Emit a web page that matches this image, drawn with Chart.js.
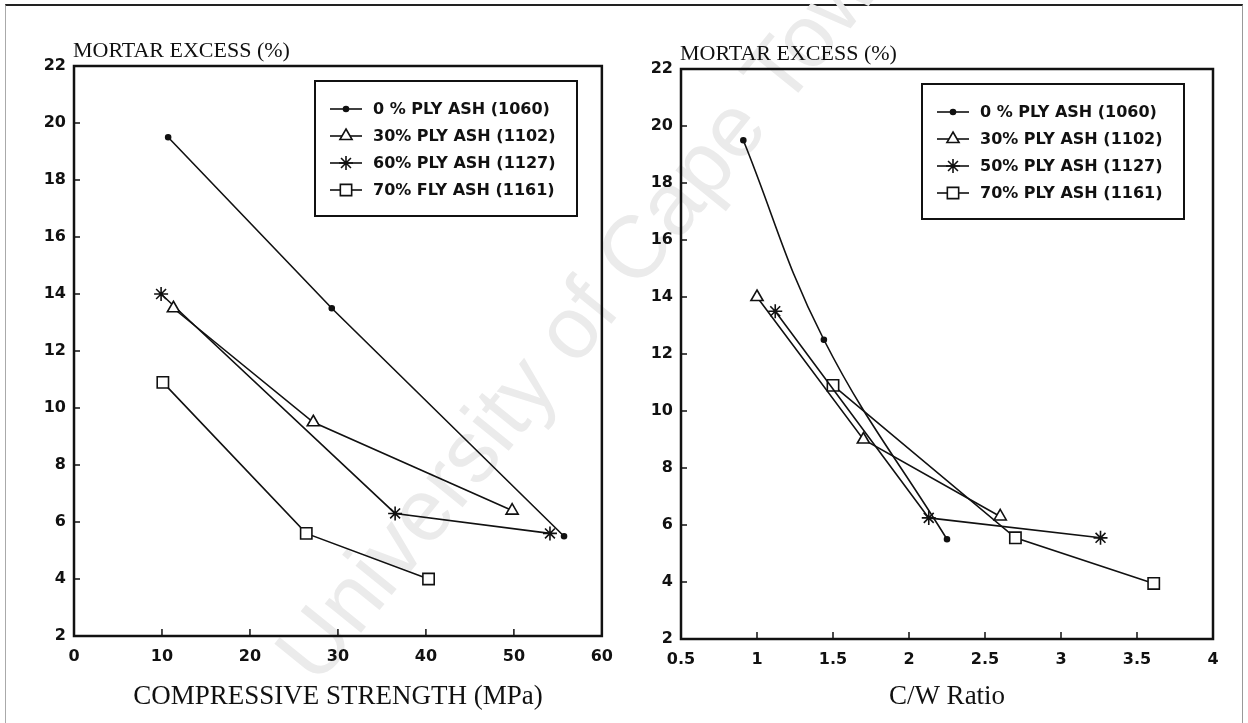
<!DOCTYPE html>
<html>
<head>
<meta charset="utf-8">
<title>Mortar excess</title>
<script src="https://cdn.jsdelivr.net/npm/chart.js@4.4.0/dist/chart.umd.min.js"></script>
<style>
  html, body { margin: 0; padding: 0; background: #fff; }
  body { width: 1248px; height: 723px; position: relative; overflow: hidden; }
  #frame { position: absolute; left: 5px; top: 4px; width: 1236px; height: 730px;
           border-top: 2px solid #222; border-left: 1px solid #aaa; border-right: 1px solid #999; }
  #wm { position: absolute; left: 592px; top: 300px; white-space: nowrap;
        transform: translate(-50%, -50%) rotate(-51deg);
        font: 88px "Liberation Sans", sans-serif; color: #ebebeb; }
  .box { position: absolute; top: 0; width: 624px; height: 723px; }
</style>
</head>
<body>
<div id="frame"></div>
<div id="wm">University of Cape Town</div>
<div class="box" style="left:0"><canvas id="left" width="624" height="723"></canvas></div>
<div class="box" style="left:624px"><canvas id="right" width="624" height="723"></canvas></div>
<script>
// left: compressive strength (MPa) vs mortar excess (%)
var strength0 = [10.7, 29.3, 55.7]
var excess0L = [19.5, 13.5, 5.5]
var strength30 = [11.3, 27.2, 49.8]
var excess30L = [13.5, 9.5, 6.4]
var strength60 = [9.9, 36.5, 54.1]
var excess60L = [14.0, 6.3, 5.6]
var strength70 = [10.1, 26.4, 40.3]
var excess70L = [10.9, 5.6, 4.0]

// right: C/W ratio vs mortar excess (%)
var cw0 = [0.91, 1.44, 2.25]
var excess0R = [19.5, 12.5, 5.5]
var cw30 = [1.0, 1.7, 2.6]
var excess30R = [14.0, 9.0, 6.3]
var cw60 = [1.12, 2.13, 3.26]
var excess60R = [13.5, 6.25, 5.55]
var cw70 = [1.5, 2.7, 3.61]
var excess70R = [10.9, 5.55, 3.95]

var labelsLeft = ['0 % PLY ASH (1060)', '30% PLY ASH (1102)', '60% PLY ASH (1127)', '70% FLY ASH (1161)']
var labelsRight = ['0 % PLY ASH (1060)', '30% PLY ASH (1102)', '50% PLY ASH (1127)', '70% PLY ASH (1161)']

var ink = '#111'
var markers = [
  { pointStyle: 'circle', pointRadius: 2.5, pointBackgroundColor: ink },
  { pointStyle: 'triangle', pointRadius: 7, pointBackgroundColor: '#fff' },
  { pointStyle: 'star', pointRadius: 7, pointBackgroundColor: '#fff' },
  { pointStyle: 'rect', pointRadius: 8, pointBackgroundColor: '#fff' }
]

function pairs (xs, ys) {
  return xs.map(function (v, i) { return { x: v, y: ys[i] } })
}

function makeSets (xLists, yLists, labels, tensions) {
  return labels.map(function (lab, i) {
    var m = markers[i]
    return {
      label: lab,
      data: pairs(xLists[i], yLists[i]),
      borderColor: ink,
      borderWidth: 1.6,
      tension: tensions[i],
      pointStyle: m.pointStyle,
      pointRadius: m.pointRadius,
      pointBackgroundColor: m.pointBackgroundColor,
      pointBorderColor: ink,
      pointBorderWidth: 1.6
    }
  })
}

// frame, inward ticks, y title and legend box
var framePlugin = {
  id: 'frame',
  afterDraw: function (chart, args, opts) {
    var ctx = chart.ctx, a = chart.chartArea
    var xs = chart.scales.x, ys = chart.scales.y
    ctx.save()
    ctx.strokeStyle = ink
    ctx.lineWidth = 1.5
    ctx.beginPath()
    ys.ticks.forEach(function (t) {
      if (t.value <= ys.min || t.value >= ys.max) return
      var py = ys.getPixelForValue(t.value)
      ctx.moveTo(a.left, py)
      ctx.lineTo(a.left + 6, py)
    })
    xs.ticks.forEach(function (t) {
      if (t.value <= xs.min || t.value >= xs.max) return
      var px = xs.getPixelForValue(t.value)
      ctx.moveTo(px, a.bottom)
      ctx.lineTo(px, a.bottom - 7)
    })
    ctx.stroke()
    ctx.lineWidth = 2.5
    ctx.strokeRect(a.left, a.top, a.right - a.left, a.bottom - a.top)

    ctx.fillStyle = ink
    ctx.font = '22px "Liberation Serif"'
    ctx.textAlign = 'left'
    ctx.textBaseline = 'alphabetic'
    ctx.fillText(opts.yTitle, a.left - 1, a.top - 9)

    var bx = a.left + 241, by = a.top + 15, bw = 262, bh = 135
    ctx.lineWidth = 2
    ctx.strokeRect(bx, by, bw, bh)
    ctx.font = 'bold 16px "DejaVu Sans"'
    ctx.textBaseline = 'middle'
    chart.data.datasets.forEach(function (ds, i) {
      var y = by + 28 + i * 27
      ctx.lineWidth = 1.6
      ctx.beginPath()
      ctx.moveTo(bx + 15, y)
      ctx.lineTo(bx + 47, y)
      ctx.stroke()
      ctx.fillStyle = ds.pointBackgroundColor
      Chart.helpers.drawPoint(ctx, { pointStyle: ds.pointStyle, radius: ds.pointRadius, rotation: 0, borderWidth: 1.6 }, bx + 31, y)
      ctx.fillStyle = ink
      ctx.fillText(ds.label, bx + 58, y + 1)
    })
    ctx.restore()
  }
}

function makeChart (id, datasets, xOpts, yWidth, xHeight, pad, yTitle) {
  new Chart(document.getElementById(id), {
    type: 'line',
    data: { datasets: datasets },
    plugins: [framePlugin],
    options: {
      responsive: false,
      animation: false,
      layout: { padding: pad },
      plugins: {
        legend: { display: false },
        tooltip: { enabled: false },
        frame: { yTitle: yTitle }
      },
      scales: {
        x: {
          type: 'linear',
          min: xOpts.min,
          max: xOpts.max,
          grid: { display: false, drawTicks: false },
          border: { display: false },
          ticks: { stepSize: xOpts.step, color: ink, padding: 11, autoSkip: false, maxRotation: 0,
                   font: { family: 'DejaVu Sans', size: 16, weight: 'bold' },
                   callback: function (v) { return String(Number(v.toFixed(2))) } },
          title: { display: true, text: xOpts.title, color: ink, padding: { top: 0, bottom: 10 },
                   font: { family: 'Liberation Serif', size: 27 } },
          afterFit: function (s) { s.height = xHeight }
        },
        y: {
          min: 2,
          max: 22,
          grid: { display: false, drawTicks: false },
          border: { display: false },
          ticks: { stepSize: 2, color: ink, padding: 8, autoSkip: false,
                   font: { family: 'DejaVu Sans', size: 16, weight: 'bold' } },
          afterFit: function (s) { s.width = yWidth }
        }
      }
    }
  })
}

makeChart('left',
  makeSets([strength0, strength30, strength60, strength70], [excess0L, excess30L, excess60L, excess70L], labelsLeft, [0, 0, 0, 0]),
  { min: 0, max: 60, step: 10, title: 'COMPRESSIVE STRENGTH (MPa)' },
  74, 87, { left: 0, top: 66, right: 17, bottom: 0 }, 'MORTAR EXCESS (%)')

makeChart('right',
  makeSets([cw0, cw30, cw60, cw70], [excess0R, excess30R, excess60R, excess70R], labelsRight, [0.4, 0, 0, 0]),
  { min: 0.5, max: 4, step: 0.5, title: 'C/W Ratio' },
  57, 84, { left: 0, top: 69, right: 35, bottom: 0 }, 'MORTAR EXCESS (%)')
</script>
</body>
</html>
